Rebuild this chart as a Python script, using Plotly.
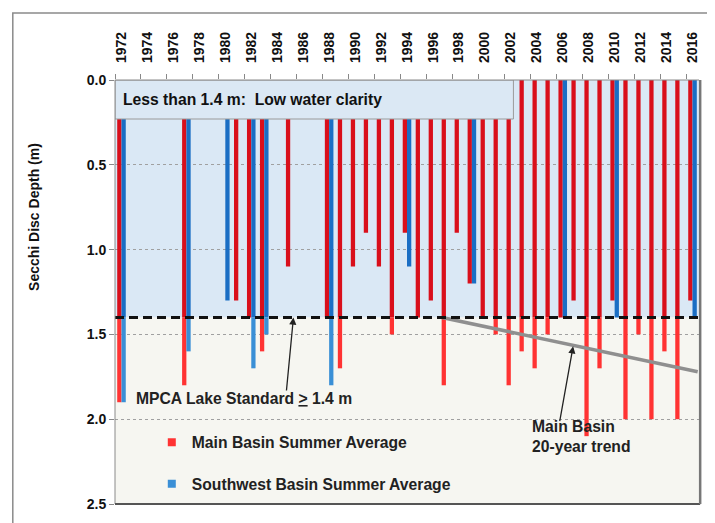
import plotly.graph_objects as go

# ---------------- data ----------------
years = list(range(1972, 2017))
main_basin = [1.9, None, None, None, None, 1.8, None, None, None, 1.3,
              1.4, 1.6, None, 1.1, None, None, 1.4, 1.7, 1.1, 0.9,
              1.1, 1.5, 0.9, 1.4, 1.3, 1.8, 0.9, 1.2, 1.4, 1.5,
              1.8, 1.6, 1.7, 1.5, 1.4, 1.3, 2.1, 1.7, 1.3, 2.0,
              1.5, 2.0, 1.6, 2.0, 1.3]
southwest_basin = [1.9, None, None, None, None, 1.6, None, None, 1.3, None,
                   1.7, 1.5, None, None, None, None, 1.8, None, None, None,
                   None, None, 1.1, None, None, None, None, 1.2, None, None,
                   None, None, None, None, 1.4, None, None, None, 1.4, None,
                   None, None, None, None, 1.4]
standard = 1.4
trend_years = [1996.7, 2016.4]
trend_values = [1.40, 1.72]
tick_years = list(range(1972, 2017, 2))
tick_labels = [str(y) for y in tick_years]
y_ticks = [0.0, 0.5, 1.0, 1.5, 2.0, 2.5]

FONT = "Liberation Sans, Arial, sans-serif"
RED_UP, RED_LO = "#d90f1b", "#ff3333"
BLUE_UP, BLUE_LO = "#1a6ec4", "#3a8fd6"


def bfont(size, color="#111111"):
    return dict(family=FONT, size=size, color=color, weight="bold")


def upper(vals):
    return [None if v is None else min(v, standard) for v in vals]


def lower(vals):
    return [None if (v is None or v <= standard) else v - standard for v in vals]


fig = go.Figure()
W = 0.33
for vals, off, cu, cl in [(main_basin, -W, RED_UP, RED_LO),
                          (southwest_basin, 0.0, BLUE_UP, BLUE_LO)]:
    fig.add_trace(go.Bar(x=years, y=upper(vals), base=0, offset=off, width=W,
                         marker=dict(color=cu, line=dict(width=0)),
                         showlegend=False, hoverinfo="skip"))
    fig.add_trace(go.Bar(x=years, y=lower(vals), base=standard, offset=off, width=W,
                         marker=dict(color=cl, line=dict(width=0)),
                         showlegend=False, hoverinfo="skip"))

# trend line
fig.add_trace(go.Scatter(x=trend_years, y=trend_values, mode="lines",
                         line=dict(color="#8f8f8f", width=3.5),
                         showlegend=False, hoverinfo="skip"))

# legend entries
fig.add_trace(go.Scatter(x=[None], y=[None], mode="markers", name="Main Basin Summer Average",
                         marker=dict(symbol="square", size=8, color=RED_LO),
                         legendgroup="a"))
fig.add_trace(go.Scatter(x=[None], y=[None], mode="markers", name="Southwest Basin Summer Average",
                         marker=dict(symbol="square", size=8, color=BLUE_LO),
                         legendgroup="b"))

shapes = [
    # background regions
    dict(type="rect", xref="paper", yref="y", x0=0, x1=1, y0=0, y1=standard,
         fillcolor="#dae8f5", line=dict(width=0), layer="below"),
    dict(type="rect", xref="paper", yref="y", x0=0, x1=1, y0=standard, y1=2.5,
         fillcolor="#f6f6f1", line=dict(width=0), layer="below"),
    # text box
    dict(type="rect", xref="x", yref="y", x0=1971.5, x1=2002.2, y0=0, y1=0.23,
         fillcolor="#dbe8f4", line=dict(color="#9a9a9a", width=1), layer="above"),
    # standard line
    dict(type="line", xref="paper", yref="y", x0=0, x1=1, y0=standard, y1=standard,
         line=dict(color="#111111", width=3, dash="9px,5px"), layer="above"),
    # plot border
    dict(type="line", xref="paper", yref="paper", x0=0, x1=0, y0=0, y1=1,
         line=dict(color="#8a8a8a", width=1), layer="above"),
    dict(type="line", xref="paper", yref="paper", x0=0, x1=1, y0=1, y1=1,
         line=dict(color="#8a8a8a", width=1), layer="above"),
    dict(type="line", xref="paper", yref="paper", x0=0, x1=1.002, y0=0, y1=0,
         line=dict(color="#555555", width=2), layer="above"),
    dict(type="line", xref="paper", yref="paper", x0=1.002, x1=1.002, y0=0, y1=1,
         line=dict(color="#777777", width=2.5), layer="above"),
    # outer frame
    dict(type="rect", xref="paper", yref="paper", x0=-0.175, x1=1.0154, y0=-0.1, y1=1.158,
         fillcolor="rgba(0,0,0,0)", line=dict(color="#8a8a8a", width=1.5), layer="above"),
]

annotations = [
    dict(xref="x", yref="y", x=1972.0, y=0.115, xanchor="left", yanchor="middle",
         text="Less than 1.4 m:  Low water clarity", showarrow=False,
         font=bfont(15.7)),
    dict(xref="x", yref="y", x=1973.0, y=1.88, xanchor="left", yanchor="middle",
         text="MPCA Lake Standard <u>&gt;</u> 1.4 m", showarrow=False,
         font=bfont(15.7, "#222222")),
    dict(xref="x", yref="y", x=1985.25, y=1.4, axref="x", ayref="y", ax=1984.7, ay=1.84,
         text="", showarrow=True, arrowhead=2, arrowsize=1.1, arrowwidth=1.3,
         arrowcolor="#222222"),
    dict(xref="x", yref="y", x=2003.45, y=2.1, xanchor="left", yanchor="middle",
         text="Main Basin<br>20-year trend", showarrow=False, align="left",
         font=bfont(15.7, "#222222")),
    dict(xref="x", yref="y", x=2006.8, y=1.57, axref="x", ayref="y", ax=2005.75, ay=2.02,
         text="", showarrow=True, arrowhead=2, arrowsize=1.1, arrowwidth=1.3,
         arrowcolor="#222222"),
    dict(xref="paper", yref="paper", x=-0.1387, y=0.677, xanchor="center", yanchor="middle",
         textangle=-90, text="Secchi Disc Depth (m)", showarrow=False,
         font=bfont(14)),
]

fig.update_layout(
    width=715, height=523,
    margin=dict(l=107, r=24, t=72, b=27, autoexpand=False),
    paper_bgcolor="white", plot_bgcolor="#f6f6f1",
    barmode="overlay",
    font=dict(family=FONT, color="#111111"),
    shapes=shapes, annotations=annotations,
    legend=dict(x=0.063, y=0.185, xanchor="left", yanchor="top",
                bgcolor="rgba(0,0,0,0)", tracegroupgap=18, itemsizing="trace",
                itemwidth=30, font=bfont(15.7, "#222222")),
    xaxis=dict(side="top", range=[1971.5, 2016.5], tickmode="array",
               tickvals=tick_years, ticktext=tick_labels, tickangle=-90,
               ticks="", showgrid=False, zeroline=False, showline=False,
               ticklabelstandoff=16, automargin=False,
               tickfont=bfont(14),
               minor=dict(ticks="outside", tick0=1971.5, dtick=2, ticklen=5,
                          tickcolor="#888888", showgrid=False)),
    yaxis=dict(range=[2.5, 0], tickmode="array", tickvals=y_ticks,
               ticktext=[f"{v:.1f}" for v in y_ticks],
               ticks="outside", ticklen=5, tickcolor="#888888",
               showgrid=True, gridcolor="#a0a0a0", griddash="dot", gridwidth=1,
               zeroline=False, showline=False, automargin=False,
               tickfont=bfont(14)),
)

fig.write_html("out.html")
